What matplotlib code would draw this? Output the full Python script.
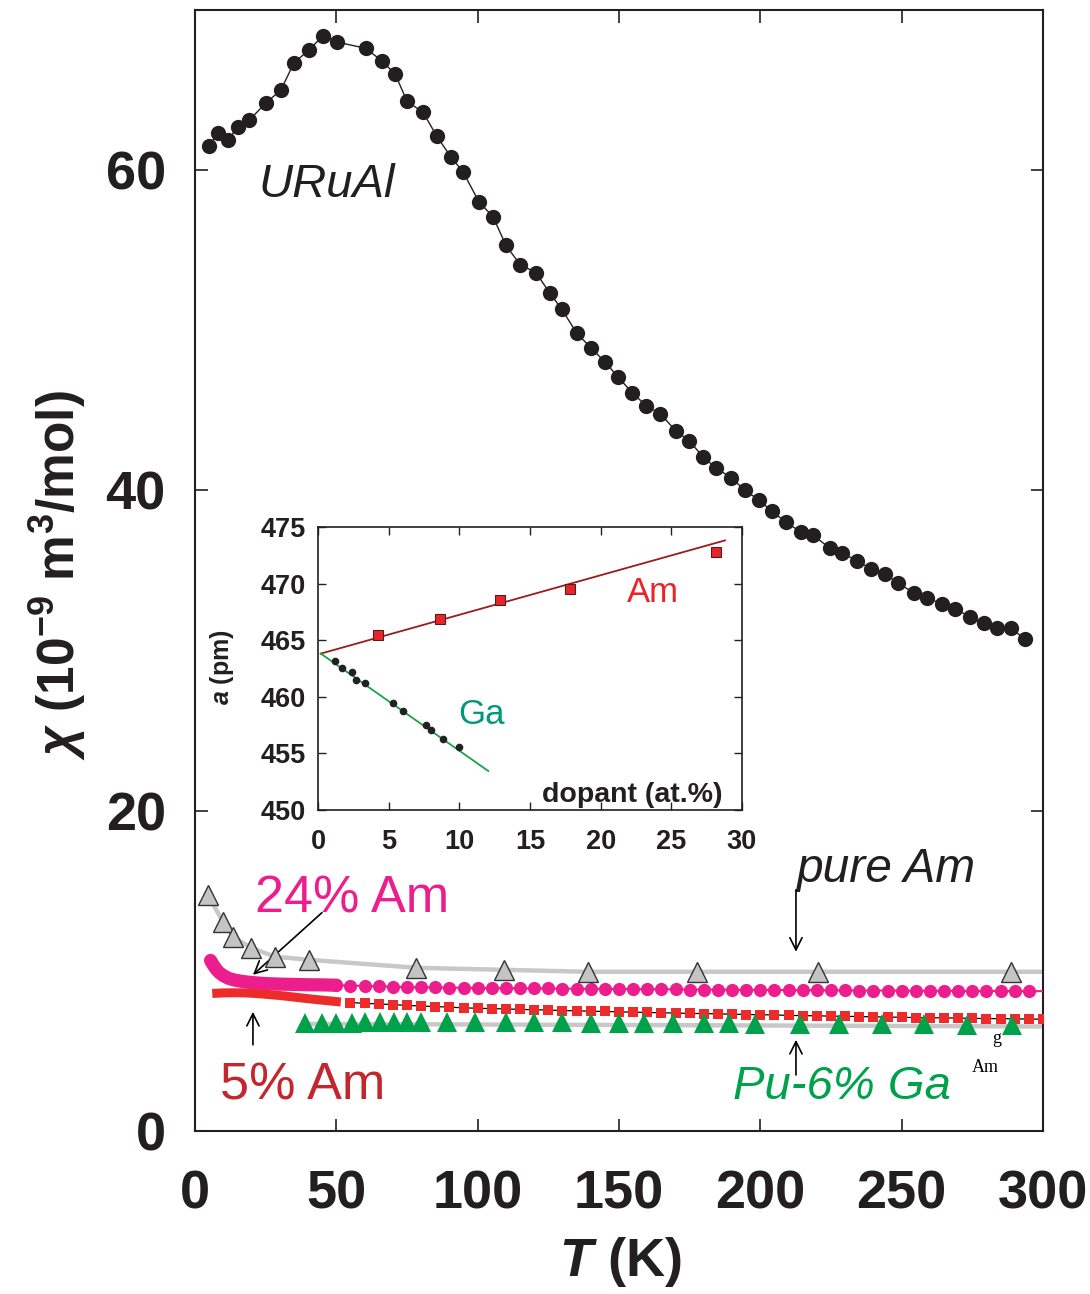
import numpy as np
import matplotlib
matplotlib.use("Agg")
import matplotlib.pyplot as plt

plt.rcParams['font.family'] = ['Liberation Sans', 'DejaVu Sans']
plt.rcParams['mathtext.fontset'] = 'custom'
plt.rcParams['mathtext.rm'] = 'Liberation Sans:bold'
plt.rcParams['mathtext.bf'] = 'Liberation Sans:bold'
plt.rcParams['mathtext.it'] = 'Liberation Sans:italic:bold'
plt.rcParams['mathtext.bfit'] = 'Liberation Sans:italic:bold'

# ---------------- main panel data: susceptibility chi (1e-9 m^3/mol) vs T (K)
uruai_T = [4.9, 8.1, 11.7, 15.2, 19.1, 25.1, 30.4, 35.0, 40.3, 45.3, 50.2, 60.5, 66.2,
           70.8, 75.0, 80.7, 85.6, 90.6, 94.8, 100.5, 105.4, 110.0, 115.0, 120.6, 125.6,
           129.8, 135.1, 140.1, 145.1, 149.6, 154.6, 159.6, 164.5, 170.2, 174.8, 179.7,
           184.3, 189.6, 194.6, 199.5, 204.1, 209.1, 214.4, 218.6, 224.6, 228.9, 234.2,
           239.2, 244.1, 248.7, 254.4, 259.0, 264.3, 268.9, 274.2, 279.1, 283.7, 288.7, 293.6]
uruai_chi = [61.5, 62.3, 61.9, 62.7, 63.1, 64.2, 65.0, 66.7, 67.5, 68.4, 68.0, 67.6, 66.8,
             66.0, 64.3, 63.6, 62.1, 60.8, 59.9, 58.0, 57.1, 55.3, 54.1, 53.6, 52.3,
             51.3, 49.8, 48.9, 48.0, 47.1, 46.1, 45.3, 44.8, 43.7, 43.1, 42.1,
             41.4, 40.8, 40.0, 39.4, 38.7, 38.0, 37.4, 37.2, 36.4, 36.1, 35.6,
             35.1, 34.8, 34.2, 33.6, 33.3, 32.9, 32.6, 32.1, 31.7, 31.4, 31.4, 30.7]

puream_T = [4.5, 9.9, 13.4, 19.8, 28.3, 40.2, 78.1, 109.3, 139.0, 177.6, 220.4, 288.7]
puream_chi = [14.75, 13.06, 12.13, 11.44, 10.88, 10.69, 10.19, 10.06, 9.94, 9.94, 9.94, 9.94]

# 24% Am: densely measured low-T part, then every 5 K
am24_dense_T = [5.5, 6.5, 7.5, 8.5, 10, 12, 14, 17, 20, 25, 30, 35, 40, 45, 50]
am24_dense_chi = [10.65, 10.35, 10.10, 9.90, 9.70, 9.52, 9.42, 9.33, 9.27, 9.20, 9.17,
                  9.15, 9.13, 9.12, 9.10]
am24_T = list(range(50, 300, 5))
am24_chi = [9.10, 9.08, 9.05, 9.03, 9.00, 8.98, 8.97, 8.96, 8.95, 8.94,
            8.93, 8.92, 8.92, 8.91, 8.90, 8.90, 8.89, 8.88, 8.88, 8.87,
            8.86, 8.86, 8.85, 8.85, 8.84, 8.83, 8.83, 8.82, 8.82, 8.81,
            8.81, 8.80, 8.80, 8.79, 8.79, 8.78, 8.78, 8.77, 8.77, 8.77,
            8.76, 8.76, 8.75, 8.75, 8.75, 8.74, 8.74, 8.74, 8.73, 8.73]

# 5% Am
am5_dense_T = [7.7, 10, 14, 18, 22, 26, 30, 34, 38, 42, 46, 50]
am5_dense_chi = [8.60, 8.62, 8.63, 8.62, 8.58, 8.52, 8.46, 8.38, 8.30, 8.22, 8.15, 8.08]
am5_T = list(range(55, 305, 5))
am5_chi = [8.02, 7.97, 7.93, 7.89, 7.84, 7.80, 7.77, 7.73, 7.69, 7.66,
           7.64, 7.62, 7.59, 7.57, 7.55, 7.52, 7.50, 7.48, 7.46, 7.44,
           7.42, 7.40, 7.38, 7.36, 7.34, 7.33, 7.31, 7.29, 7.27, 7.26,
           7.24, 7.22, 7.20, 7.19, 7.17, 7.16, 7.14, 7.13, 7.11, 7.10,
           7.08, 7.07, 7.06, 7.05, 7.03, 7.02, 7.01, 7.00, 6.99, 6.98]

# Pu-6% Ga
puga_T = [39, 45, 50, 55.5, 60, 65.5, 70.5, 75, 80, 89, 99, 110, 120, 130, 140, 150,
          159, 169, 180, 189, 198, 214, 228, 243, 258, 273, 289]
puga_chi = [6.75, 6.76, 6.77, 6.77, 6.78, 6.78, 6.78, 6.79, 6.79, 6.80, 6.80, 6.80,
            6.79, 6.78, 6.77, 6.76, 6.75, 6.74, 6.73, 6.72, 6.71, 6.69, 6.68, 6.66,
            6.65, 6.64, 6.63]

main_xticks = [0, 50, 100, 150, 200, 250, 300]
main_yticks = [0, 20, 40, 60]

# ---------------- inset data: lattice parameter a (pm) vs dopant (at.%)
am_x = [4.25, 8.64, 12.85, 17.82, 28.17]
am_a = [465.43, 466.85, 468.52, 469.55, 472.82]
am_line_x = [0.2, 28.8]
am_line_a = [463.82, 473.82]

ga_x = [1.21, 1.72, 2.40, 2.72, 3.30, 5.29, 6.00, 7.61, 8.02, 8.87, 10.01]
ga_a = [463.13, 462.56, 462.17, 461.52, 461.25, 459.46, 458.78, 457.47, 457.11,
        456.31, 455.54]
ga_line_x = [0.2, 12.05]
ga_line_a = [463.82, 453.45]

inset_xticks = [0, 5, 10, 15, 20, 25, 30]
inset_yticks = [450, 455, 460, 465, 470, 475]

# ---------------- colours
C_BLACK = '#231f20'
C_GREY = '#c8c8c8'
C_MAG = '#ec1e8e'
C_RED = '#ee2b2b'
C_DRED = '#c4262e'
C_GREEN = '#00a14b'
C_TEAL = '#00997b'

fig = plt.figure(figsize=(10.9, 12.94), dpi=100)
ax = fig.add_axes([0.1789, 0.126, 0.7780, 0.8663])
ax.set_xlim(0, 300)
ax.set_ylim(0, 70)

# grey guide lines
pa_T = np.append(puream_T, 300)
pa_chi = np.append(puream_chi, puream_chi[-1])
ax.plot(pa_T, pa_chi, color=C_GREY, lw=3.2, zorder=1, solid_capstyle='round')
fit = np.polyfit(puga_T, puga_chi, 1)
gx = np.array([puga_T[0], 300])
ax.plot(gx, np.polyval(fit, gx) - 0.12, color=C_GREY, lw=3.2, zorder=1)

# URuAl
ax.plot(uruai_T, uruai_chi, '-', color=C_BLACK, lw=1.0, zorder=3)
ax.plot(uruai_T, uruai_chi, 'o', color=C_BLACK, ms=11, mew=0, zorder=4)

# pure Am
ax.plot(puream_T, puream_chi, '^', ms=14.5, mfc='#c4c4c4', mec='#333333', mew=1.0, zorder=4)

# 24% Am
ax.plot(am24_dense_T, am24_dense_chi, '-', color=C_MAG, lw=9.5,
        solid_capstyle='round', zorder=3)
ax.plot(am24_T + [300], am24_chi + [am24_chi[-1]], '-', color=C_MAG, lw=1.5, zorder=3)
ax.plot(am24_T, am24_chi, 'o', color=C_MAG, ms=9.5, mew=0, zorder=3)

# 5% Am
ax.plot(am5_dense_T, am5_dense_chi, '-', color=C_RED, lw=6.5, zorder=4)
ax.plot(am5_T, am5_chi, '-', color='k', lw=0.9, zorder=4)
ax.plot(am5_T, am5_chi, 's', color=C_RED, ms=6.5, mew=0, zorder=5)

# Pu-6% Ga
ax.plot(puga_T, puga_chi, '^', color=C_GREEN, ms=14.5, mew=0, zorder=6)

# labels and arrows
arrow = dict(arrowstyle='->', color='k', lw=1.2, mutation_scale=22, shrinkA=0, shrinkB=0)
ax.text(22.3, 58.3, 'URuAl', fontsize=34, style='italic', color=C_BLACK)
ax.text(21.2, 13.64, '24% Am', fontsize=37.5, color=C_MAG)
ax.annotate('', xy=(20.5, 9.75), xytext=(44.9, 13.63), arrowprops=arrow)
ax.text(8.9, 1.94, '5% Am', fontsize=37.5, color=C_DRED)
ax.annotate('', xy=(20.5, 7.44), xytext=(20.5, 5.38), arrowprops=arrow)
ax.text(212.6, 15.56, 'pure Am', fontsize=34.5, style='italic', color=C_BLACK)
ax.annotate('', xy=(212.6, 11.19), xytext=(212.6, 15.06), arrowprops=arrow)
ax.text(190.3, 2.0, 'Pu-6% Ga', fontsize=34, style='italic', color=C_GREEN)
ax.annotate('', xy=(212.6, 5.69), xytext=(212.6, 3.5), arrowprops=arrow)
ax.text(283.6, 5.5, 'g', fontsize=13, family='Liberation Serif', ha='center', color='k')
ax.text(279.5, 3.69, 'Am', fontsize=13, family='Liberation Serif', ha='center', color='k')

ax.set_xticks(main_xticks)
ax.set_yticks(main_yticks)
ax.tick_params(direction='in', length=9, width=1.2, top=True, right=True,
               labelsize=39, colors=C_BLACK)
ax.tick_params(axis='x', pad=28)
ax.tick_params(axis='y', pad=21)
for lab in ax.get_xticklabels() + ax.get_yticklabels():
    lab.set_fontweight('bold')
for sp in ax.spines.values():
    sp.set_linewidth(1.5)
    sp.set_color(C_BLACK)

fig.text(0.053, 0.5556, r'$\mathbfit{\chi}$ (10$^{\mathbf{-9}}$ m$^{\mathbf{3}}$/mol)',
         rotation=90, fontsize=37, fontweight='bold', ha='center', va='center',
         color=C_BLACK)
fig.text(0.569, 0.004, r'$\mathbfit{T}$ (K)', fontsize=39, fontweight='bold',
         ha='center', va='bottom', color=C_BLACK)

# ---------------- inset
axi = fig.add_axes([0.2917, 0.374, 0.389, 0.2187])
axi.set_xlim(0, 30)
axi.set_ylim(450, 475)
axi.plot(am_line_x, am_line_a, '-', color='#9b1c1c', lw=1.3, zorder=2)
axi.plot(am_x, am_a, 's', ms=6.5, mfc='#e8262a', mec='#4a2020', mew=0.8, zorder=3)
axi.plot(ga_line_x, ga_line_a, '-', color='#1aa34a', lw=1.3, zorder=2)
axi.plot(ga_x, ga_a, 'o', ms=5.5, color='#222222', mew=0, zorder=3)
axi.text(23.7, 469.26, 'Am', fontsize=25, color='#e8262a', ha='center', va='center')
axi.text(11.6, 458.4, 'Ga', fontsize=25, color=C_TEAL, ha='center', va='center')
axi.text(28.6, 451.33, 'dopant (at.%)', fontsize=20.5, fontweight='bold', ha='right',
         va='center', color=C_BLACK)
axi.set_xticks(inset_xticks)
axi.set_yticks(inset_yticks)
axi.tick_params(direction='in', length=6, width=1.0, top=True, right=True,
                labelsize=19.5, colors=C_BLACK)
axi.tick_params(axis='x', pad=14)
axi.tick_params(axis='y', pad=9)
for lab in axi.get_xticklabels() + axi.get_yticklabels():
    lab.set_fontweight('bold')
for sp in axi.spines.values():
    sp.set_linewidth(1.2)
    sp.set_color(C_BLACK)
fig.text(222 / 1090, 1 - 667 / 1294, r'$\mathbfit{a}$ (pm)', rotation=90, fontsize=18,
         fontweight='bold', ha='center', va='center', color=C_BLACK)

fig.savefig('out.png', dpi=100)
